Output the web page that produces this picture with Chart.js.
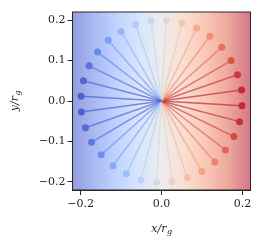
<!DOCTYPE html>
<html lang="en">
	<head>
		<meta charset="utf-8" />
		<title>Spokes</title>
		<script src="https://cdn.jsdelivr.net/npm/chart.js@4.4.1/dist/chart.umd.min.js"></script>
		<style>
			body { margin: 0; background: #fff; }
		</style>
	</head>
	<body>

		<canvas id="myChart" width="264" height="245"></canvas>
		<script type="text/javascript">

			// outer end of every spoke (x / r_g, y / r_g)
			const end_x = [-0.199, -0.193, -0.179, -0.158, -0.132, -0.100, -0.064, -0.026,
				0.012, 0.051, 0.087, 0.120, 0.149, 0.172, 0.188, 0.198,
				0.199, 0.193, 0.179, 0.158, 0.132, 0.100, 0.064, 0.026,
				-0.012, -0.051, -0.087, -0.120, -0.149, -0.173, -0.188, -0.198];
			const end_y = [0.012, 0.050, 0.087, 0.121, 0.150, 0.172, 0.189, 0.199,
				0.199, 0.193, 0.180, 0.160, 0.133, 0.100, 0.065, 0.027,
				-0.012, -0.051, -0.088, -0.121, -0.151, -0.174, -0.190, -0.199,
				-0.201, -0.195, -0.180, -0.160, -0.133, -0.102, -0.066, -0.027];
			const origin = {x: 0, y: 0};

			const x_ticks = [-0.2, 0.0, 0.2];
			const y_ticks = [-0.2, -0.1, 0.0, 0.1, 0.2];
			const axis_min = -0.22;
			const axis_max = 0.22;

			// coolwarm colormap
			const coolwarm = [
				[0, 59, 76, 192], [0.125, 98, 130, 234], [0.25, 141, 176, 254],
				[0.375, 184, 208, 249], [0.5, 221, 221, 221], [0.625, 245, 196, 173],
				[0.75, 244, 154, 123], [0.875, 222, 96, 77], [1, 180, 4, 38]
			];

			function cw(t, a)
			{
				t = Math.max(0, Math.min(1, t));
				let i = 0;
				while (i < coolwarm.length - 2 && t > coolwarm[i + 1][0]) i++;
				const p = coolwarm[i], q = coolwarm[i + 1];
				const f = (t - p[0]) / (q[0] - p[0]);
				const c = [1, 2, 3].map(k => Math.round(p[k] + (q[k] - p[k]) * f));
				return 'rgba(' + c.join(',') + ',' + a + ')';
			}

			const norm = v => (v - axis_min) / (axis_max - axis_min);
			const fmt = v => (v < 0 ? '\u2212' : '') + Math.abs(v).toFixed(1);

			const tickFont = {family: 'DejaVu Serif', size: 11};
			const ink = '#262626';

			const datasets = end_x.map((x, i) => ({
				data: [origin, {x: x, y: end_y[i]}],
				showLine: true,
				borderColor: cw(norm(x), 0.7),
				borderWidth: 1.5,
				pointRadius: [0, 3.5],
				pointBackgroundColor: cw(norm(x), 1),
				pointBorderWidth: 0,
				pointHoverRadius: 0
			}));

			// background gradient + frame + axis titles
			const decor = {
				id: 'decor',
				beforeDatasetsDraw(chart)
				{
					const ctx = chart.ctx, a = chart.chartArea;
					const g = ctx.createLinearGradient(a.left, 0, a.right, 0);
					coolwarm.forEach(s => g.addColorStop(s[0], 'rgba(' + s[1] + ',' + s[2] + ',' + s[3] + ',0.55)'));
					ctx.save();
					ctx.fillStyle = g;
					ctx.fillRect(a.left, a.top, a.right - a.left, a.bottom - a.top);
					ctx.restore();
				},
				afterDraw(chart)
				{
					const ctx = chart.ctx, a = chart.chartArea;
					ctx.save();
					ctx.strokeStyle = ink;
					ctx.lineWidth = 1;
					ctx.strokeRect(a.left, a.top, a.right - a.left, a.bottom - a.top);

					function title(main, sub, cx, cy, rot)
					{
						ctx.save();
						ctx.translate(cx, cy);
						ctx.rotate(rot);
						ctx.fillStyle = ink;
						ctx.textBaseline = 'middle';
						ctx.font = 'italic 11px "DejaVu Serif"';
						const w1 = ctx.measureText(main).width;
						ctx.font = 'italic 8px "DejaVu Serif"';
						const w2 = ctx.measureText(sub).width;
						const x0 = -(w1 + w2) / 2;
						ctx.font = 'italic 11px "DejaVu Serif"';
						ctx.fillText(main, x0, 0);
						ctx.font = 'italic 8px "DejaVu Serif"';
						ctx.fillText(sub, x0 + w1 + 0.5, 3);
						ctx.restore();
					}
					title('x/r', 'g', (a.left + a.right) / 2, 229, 0);
					title('y/r', 'g', 15, (a.top + a.bottom) / 2, -Math.PI / 2);
					ctx.restore();
				}
			};

			const ctx = document.getElementById('myChart').getContext('2d');
			const myChart = new Chart(ctx, {
				type: 'scatter',
				data: {datasets: datasets},
				options: {
					responsive: false,
					animation: false,
					layout: {padding: {left: 0, right: 13.5, top: 12, bottom: 0}},
					plugins: {legend: {display: false}, tooltip: {enabled: false}},
					scales: {
						x: {
							type: 'linear',
							min: axis_min,
							max: axis_max,
							afterBuildTicks: s => { s.ticks = x_ticks.map(v => ({value: v})); },
							afterFit: s => { s.height = 55; },
							ticks: {callback: v => fmt(v), font: tickFont, color: ink, padding: 3, maxRotation: 0, autoSkip: false},
							grid: {drawOnChartArea: false, tickLength: 5, color: ink, tickWidth: 1},
							border: {color: ink, width: 1}
						},
						y: {
							type: 'linear',
							min: axis_min,
							max: axis_max,
							afterBuildTicks: s => { s.ticks = y_ticks.map(v => ({value: v})); },
							afterFit: s => { s.width = 72.5; },
							ticks: {callback: v => fmt(v), font: tickFont, color: ink, padding: 2, autoSkip: false},
							grid: {drawOnChartArea: false, tickLength: 5, color: ink, tickWidth: 1},
							border: {color: ink, width: 1}
						}
					}
				},
				plugins: [decor]
			});
		</script>
	</body>
</html>
